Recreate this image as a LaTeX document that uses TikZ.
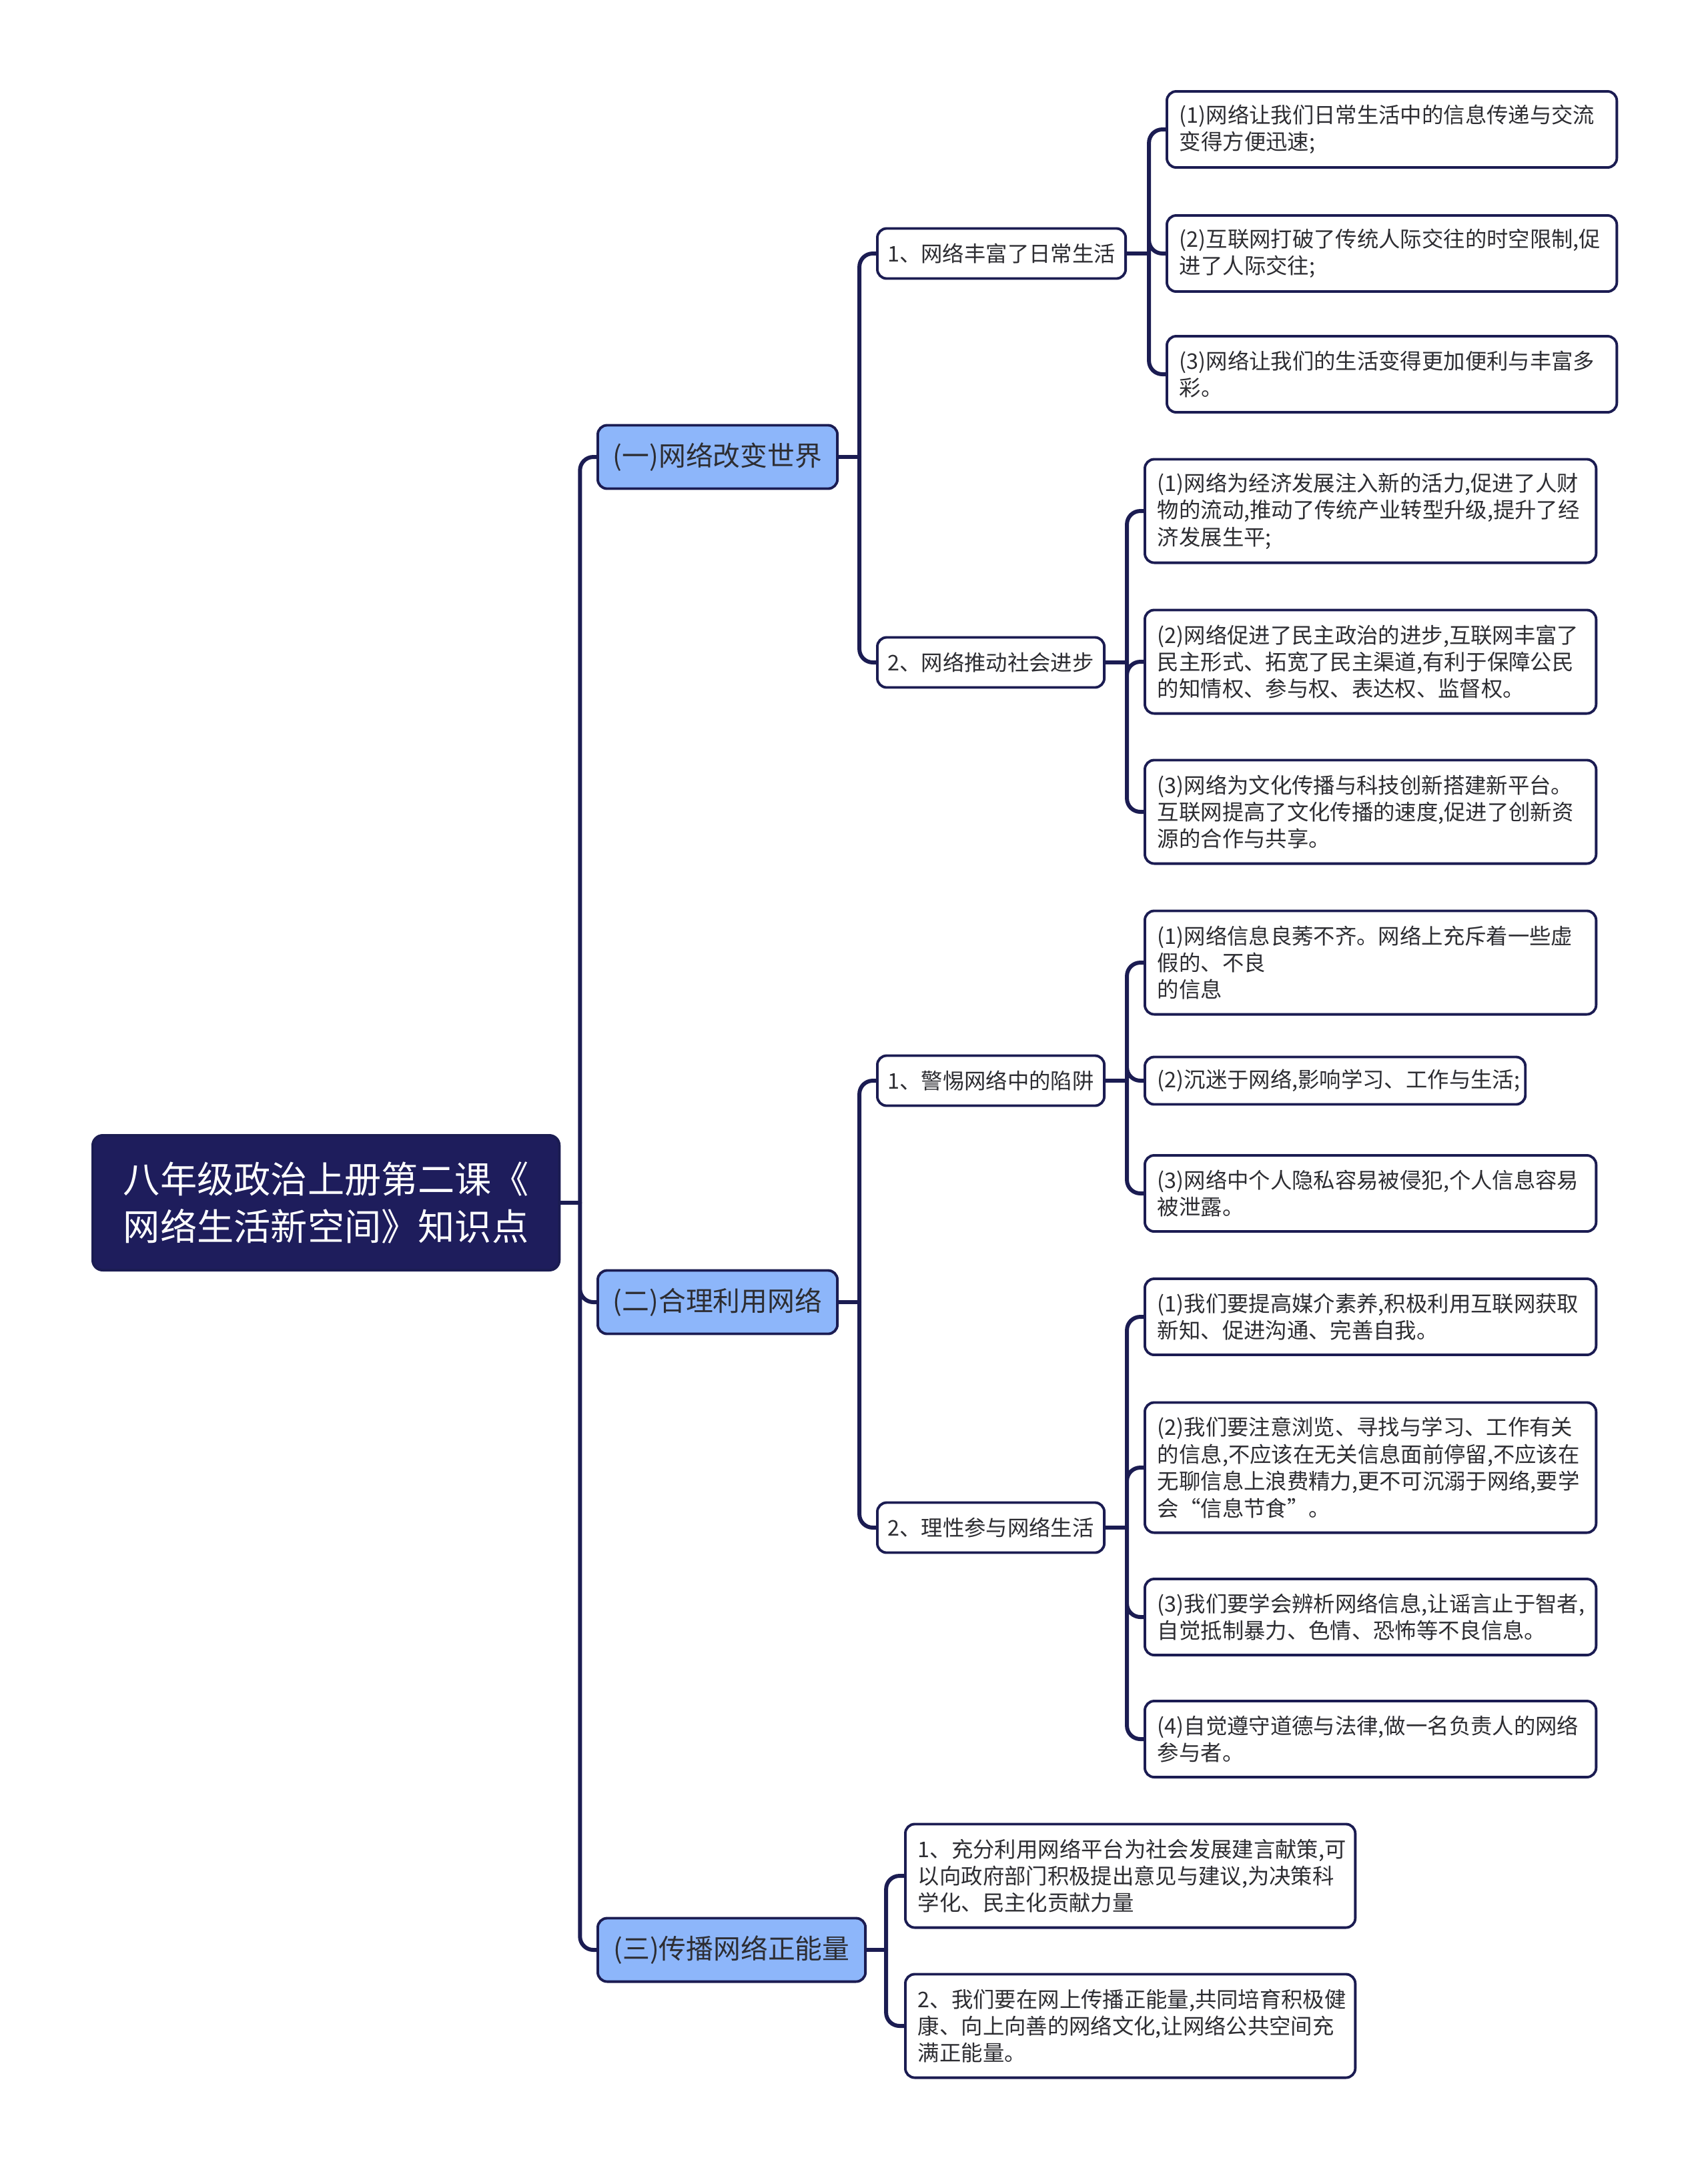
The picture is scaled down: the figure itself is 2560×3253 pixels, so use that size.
\documentclass[tikz,border=0pt]{standalone}
\usepackage{fontspec}
\setmainfont{Noto Sans CJK SC}
\definecolor{navy}{RGB}{27,28,82}
\definecolor{rootfill}{RGB}{30,29,92}
\definecolor{topicfill}{RGB}{141,182,250}
\definecolor{txtgray}{RGB}{45,45,50}
\begin{document}
\begin{tikzpicture}[x=0.01cm, y=-0.01cm, line join=round, line cap=round,
	conn/.style={draw=navy, line width=1.7pt},
	branch/.style={conn, rounded corners=0.2cm},
	rootbox/.style={draw=navy, line width=1.1pt, fill=rootfill, rounded corners=0.15cm, anchor=west, align=center, inner sep=0pt, minimum width=6.99cm, minimum height=2.02cm, text=white, font=\fontsize{15.7}{20}\selectfont},
	topicbox/.style={draw=navy, line width=1.1pt, fill=topicfill, rounded corners=0.14cm, anchor=west, inner sep=0pt, minimum height=0.95cm, text=txtgray, font=\fontsize{11.6}{14}\selectfont},
	subbox/.style={draw=navy, line width=1.1pt, fill=white, rounded corners=0.14cm, anchor=west, inner sep=0pt, minimum height=0.75cm, text=txtgray, font=\fontsize{9.2}{11.5}\selectfont},
	leafbox/.style={draw=navy, line width=1.1pt, fill=white, rounded corners=0.14cm, anchor=west, align=left, inner xsep=0.19cm, inner ysep=0pt, text width=6.36cm, minimum height=1.14cm, text=txtgray, font=\fontsize{9.2}{11.5}\selectfont}]
	\useasboundingbox (0,0) rectangle (2560,3253);
	\def\xa{1747} \def\xb{1714} \def\xe{1355} % left edges of the leaf columns
	% root and topics
	\node[rootbox] (root) at (137,1803) {八年级政治上册第二课《\\网络生活新空间》知识点};
	\node[topicbox, minimum width=3.59cm] (t1) at (894,685) {(一)网络改变世界};
	\node[topicbox, minimum width=3.59cm] (t2) at (894,1952) {(二)合理利用网络};
	\node[topicbox, minimum width=4.01cm] (t3) at (894,2923) {(三)传播网络正能量};
	% subtopics
	\node[subbox, minimum width=3.72cm] (s11) at (1313,380) {1、网络丰富了日常生活};
	\node[subbox, minimum width=3.40cm] (s12) at (1313,993) {2、网络推动社会进步};
	\node[subbox, minimum width=3.40cm] (s21) at (1313,1620) {1、警惕网络中的陷阱};
	\node[subbox, minimum width=3.40cm] (s22) at (1313,2290) {2、理性参与网络生活};
	% leaves
	\node[leafbox] (a1) at (\xa,194) {(1)网络让我们日常生活中的信息传递与交流\\变得方便迅速;};
	\node[leafbox] (a2) at (\xa,380) {(2)互联网打破了传统人际交往的时空限制,促\\进了人际交往;};
	\node[leafbox] (a3) at (\xa,561) {(3)网络让我们的生活变得更加便利与丰富多\\彩。};
	\node[leafbox, text width=6.38cm, minimum height=1.55cm] (b1) at (\xb,766) {(1)网络为经济发展注入新的活力,促进了人财\\物的流动,推动了传统产业转型升级,提升了经\\济发展生平;};
	\node[leafbox, text width=6.38cm, minimum height=1.55cm] (b2) at (\xb,992) {(2)网络促进了民主政治的进步,互联网丰富了\\民主形式、拓宽了民主渠道,有利于保障公民\\的知情权、参与权、表达权、监督权。};
	\node[leafbox, text width=6.38cm, minimum height=1.55cm] (b3) at (\xb,1217) {(3)网络为文化传播与科技创新搭建新平台。\\互联网提高了文化传播的速度,促进了创新资\\源的合作与共享。};
	\node[leafbox, text width=6.38cm, minimum height=1.55cm] (c1) at (\xb,1443) {(1)网络信息良莠不齐。网络上充斥着一些虚\\假的、不良\\的信息};
	\node[leafbox, text width=5.32cm, minimum height=0.71cm] (c2) at (\xb,1620) {(2)沉迷于网络,影响学习、工作与生活;};
	\node[leafbox, text width=6.38cm] (c3) at (\xb,1789) {(3)网络中个人隐私容易被侵犯,个人信息容易\\被泄露。};
	\node[leafbox, text width=6.38cm] (d1) at (\xb,1974) {(1)我们要提高媒介素养,积极利用互联网获取\\新知、促进沟通、完善自我。};
	\node[leafbox, text width=6.38cm, minimum height=1.95cm] (d2) at (\xb,2200) {(2)我们要注意浏览、寻找与学习、工作有关\\的信息,不应该在无关信息面前停留,不应该在\\无聊信息上浪费精力,更不可沉溺于网络,要学\\会“信息节食”。};
	\node[leafbox, text width=6.38cm] (d3) at (\xb,2424) {(3)我们要学会辨析网络信息,让谣言止于智者,\\自觉抵制暴力、色情、恐怖等不良信息。};
	\node[leafbox, text width=6.38cm] (d4) at (\xb,2607) {(4)自觉遵守道德与法律,做一名负责人的网络\\参与者。};
	\node[leafbox, minimum height=1.55cm] (e1) at (\xe,2812) {1、充分利用网络平台为社会发展建言献策,可\\以向政府部门积极提出意见与建议,为决策科\\学化、民主化贡献力量};
	\node[leafbox, minimum height=1.55cm] (e2) at (\xe,3037) {2、我们要在网上传播正能量,共同培育积极健\\康、向上向善的网络文化,让网络公共空间充\\满正能量。};
	% junctions
	\coordinate (j0) at ([xshift=0.29cm]root.east);
	\coordinate (j1) at ([xshift=0.31cm]t1.east);
	\coordinate (j2) at ([xshift=0.31cm]t2.east);
	\coordinate (j3) at ([xshift=0.29cm]t3.east);
	\coordinate (j11) at ([xshift=0.33cm]s11.east);
	\coordinate (j12) at ([xshift=0.32cm]s12.east);
	\coordinate (j21) at ([xshift=0.32cm]s21.east);
	\coordinate (j22) at ([xshift=0.32cm]s22.east);
	% connectors
	\draw[conn] (root.east)--(j0) (t1.east)--(j1) (t2.east)--(j2) (t3.east)--(j3);
	\draw[conn] (s11.east)--(j11) (s12.east)--(j12) (s21.east)--(j21) (s22.east)--(j22);
	\draw[branch] (j0) |- (t1.west) (j0) |- (t2.west) (j0) |- (t3.west);
	\draw[branch] (j1) |- (s11.west) (j1) |- (s12.west) (j2) |- (s21.west) (j2) |- (s22.west);
	\draw[branch] (j3) |- (e1.west) (j3) |- (e2.west);
	\draw[branch] (j11) |- (a1.west) (j11) |- (a2.west) (j11) |- (a3.west);
	\draw[branch] (j12) |- (b1.west) (j12) |- (b2.west) (j12) |- (b3.west);
	\draw[branch] (j21) |- (c1.west) (j21) |- (c2.west) (j21) |- (c3.west);
	\draw[branch] (j22) |- (d1.west) (j22) |- (d2.west) (j22) |- (d3.west) (j22) |- (d4.west);
\end{tikzpicture}
\end{document}
